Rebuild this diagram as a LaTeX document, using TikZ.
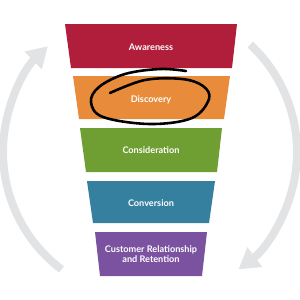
\documentclass[tikz,border=0pt]{standalone}
\usepackage{fontspec}
\newfontfamily\labfont{Lato}[BoldFont={Lato Bold}]
\usetikzlibrary{arrows.meta}
\definecolor{cAware}{HTML}{B11E3C}
\definecolor{cDisc}{HTML}{E88C3C}
\definecolor{cCons}{HTML}{6F9E33}
\definecolor{cConv}{HTML}{34809E}
\definecolor{cCust}{HTML}{7B52A0}
\definecolor{cArc}{HTML}{E2E3E4}
\tikzset{
  lbl/.style={text=white, font=\labfont\bfseries\fontsize{7.8}{8.6}\selectfont, align=center},
  cyc/.style={draw=cArc, line width=8*0.85pt, -{Triangle[length=17.5pt,width=20pt]}},
}
\begin{document}
\begin{tikzpicture}[x=0.03cm,y=-0.03cm]
\useasboundingbox (0,0) rectangle (300,300);
% cycle arcs
\draw[cyc] (150,152) ++(127:147) arc[start angle=127, end angle=226, radius=147];
\draw[cyc] (150,152) ++(-47:147) arc[start angle=-47, end angle=53, radius=147];
% funnel bands
\fill[cAware] (65,24) -- (237,24) -- (232,68) -- (71,68) -- cycle;
\fill[cDisc] (73,76) -- (230,76) -- (224,119) -- (79,119) -- cycle;
\fill[cCons] (80,128) -- (222,128) -- (217,172) -- (86,172) -- cycle;
\fill[cConv] (87,181) -- (215,181) -- (209,223) -- (93,223) -- cycle;
\fill[cCust] (95,232) -- (207,232) -- (202,276) -- (100,276) -- cycle;
\node[lbl] (aw) at (151,47) {Awareness};
\node[lbl] (di) at (151,100) {Discovery};
\node[lbl] (co) at (151,150) {Consideration};
\node[lbl] (cv) at (151,203) {Conversion};
\node[lbl] (cu) at (151,254) {Customer Relationship\\and Retention};
% scribbled ellipse
\draw[black, line width=2.2pt, line cap=round, line join=round]
  plot[smooth, tension=0.6] coordinates {(186,71) (160,69) (125,74) (99,87) (91,102) (103,117) (150,124) (192,118) (209,99) (203,86) (182,79) (145,80) (110,93)};
\end{tikzpicture}
\end{document}
